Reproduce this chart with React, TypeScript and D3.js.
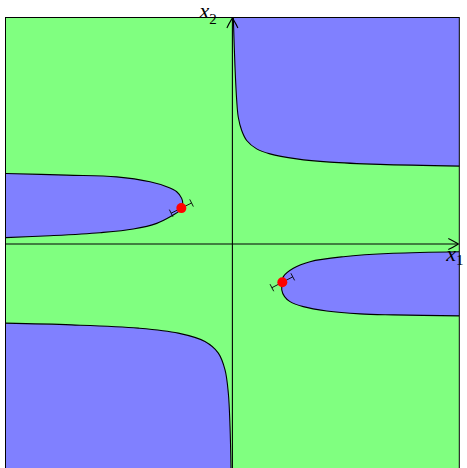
import React from "react";
import * as d3 from "d3";

// Boundary of the blue regions (data units)
const topRightX = [0.008, 0.023, 0.038, 0.052, 0.082, 0.126, 0.214, 0.331, 0.567, 0.86, 1.301, 2.006];
const topRightY = [2.0, 1.56, 1.267, 1.119, 1.002, 0.914, 0.84, 0.796, 0.752, 0.723, 0.703, 0.688];

const bottomLeftX = [-2.004, -1.417, -0.829, -0.477, -0.242, -0.124, -0.065, -0.036, -0.021, -0.012];
const bottomLeftY = [-0.699, -0.714, -0.743, -0.787, -0.861, -0.963, -1.111, -1.316, -1.61, -1.996];

const leftLobeX = [-2.0, -1.461, -1.02, -0.726, -0.579, -0.491, -0.447, -0.438, -0.447, -0.475, -0.521, -0.667, -0.874, -1.167, -1.608, -2.0];
const leftLobeY = [0.623, 0.608, 0.593, 0.549, 0.505, 0.461, 0.403, 0.359, 0.32, 0.286, 0.256, 0.182, 0.132, 0.1, 0.073, 0.056];

const rightLobeX = [2.0, 1.418, 0.978, 0.684, 0.537, 0.449, 0.44, 0.435, 0.46, 0.508, 0.625, 0.831, 1.125, 1.418, 2.0];
const rightLobeY = [-0.068, -0.082, -0.112, -0.156, -0.214, -0.288, -0.338, -0.405, -0.465, -0.509, -0.553, -0.591, -0.617, -0.626, -0.635];

// Points with error bars
const dotX = [-0.45, 0.44];
const dotY = [0.317, -0.338];
const errDx = [0.09, 0.092];
const errDy = [0.045, 0.048];

const axisLabels = ["1", "2"];

const GREEN = "#80ff80";
const BLUE = "#8080ff";

export default function App() {
  const W = 467;
  const H = 468;
  const x = d3.scaleLinear().domain([-2, 2]).range([5.5, 459.3]);
  const y = d3.scaleLinear().domain([-2, 2]).range([470.5, 17.5]);

  const zip = (xs: number[], ys: number[]) => xs.map((v, i) => [v, ys[i]] as [number, number]);
  const line = d3
    .line<[number, number]>()
    .x((d) => x(d[0]))
    .y((d) => y(d[1]))
    .curve(d3.curveCatmullRom.alpha(0.5));

  const tr = zip(topRightX, topRightY);
  const bl = zip(bottomLeftX, bottomLeftY);
  const ll = zip(leftLobeX, leftLobeY);
  const rl = zip(rightLobeX, rightLobeY);

  const trFill = line(tr) + `L${x(2.2)},${y(topRightY[topRightY.length - 1])}L${x(2.2)},${y(2.2)}L${x(topRightX[0])},${y(2.2)}Z`;
  const blFill = line(bl) + `L${x(bottomLeftX[bottomLeftX.length - 1])},${y(-2.2)}L${x(-2.2)},${y(-2.2)}L${x(-2.2)},${y(bottomLeftY[0])}Z`;
  const llFill = line(ll) + `L${x(-2.2)},${y(leftLobeY[leftLobeY.length - 1])}L${x(-2.2)},${y(leftLobeY[0])}Z`;
  const rlFill = line(rl) + `L${x(2.2)},${y(rightLobeY[rightLobeY.length - 1])}L${x(2.2)},${y(rightLobeY[0])}Z`;

  const x0 = x(-2), x1 = x(2), y0 = y(-2), y1 = y(2);
  const ox = x(0), oy = y(0);

  const arrow = "M-10,-5.5 C-6,-3.8 -2,-1.2 0,0 C-2,1.2 -6,3.8 -10,5.5";

  const capLen = 4;

  return (
    <svg
      width={W}
      height={H}
      style={{ position: "absolute", left: 0, top: 0, background: "#fff" }}
    >
      <defs>
        <clipPath id="frame">
          <rect x={x0} y={y1} width={x1 - x0} height={y0 - y1} />
        </clipPath>
      </defs>
      <g clipPath="url(#frame)">
        <rect x={x0} y={y1} width={x1 - x0} height={y0 - y1} fill={GREEN} />
        {[trFill, blFill, llFill, rlFill].map((d, i) => (
          <path key={i} d={d} fill={BLUE} stroke="none" />
        ))}
        {[tr, bl, ll, rl].map((pts, i) => (
          <path key={i} d={line(pts) || ""} fill="none" stroke="#000" strokeWidth={1.1} />
        ))}
      </g>
      {/* axes */}
      <line x1={x0} y1={oy} x2={x1 - 1} y2={oy} stroke="#000" strokeWidth={1.1} />
      <line x1={ox} y1={y0} x2={ox} y2={y1 + 0.5} stroke="#000" strokeWidth={1.1} />
      <path d={arrow} transform={`translate(${x1 - 1},${oy})`} fill="none" stroke="#000" strokeWidth={1.1} />
      <path d={arrow} transform={`translate(${ox},${y1 + 0.5}) rotate(-90)`} fill="none" stroke="#000" strokeWidth={1.1} />
      {/* frame */}
      <rect x={x0} y={y1} width={x1 - x0} height={y0 - y1} fill="none" stroke="#000" strokeWidth={1} />
      {/* error bars and points */}
      {dotX.map((dx0, i) => {
        const cx = x(dx0);
        const cy = y(dotY[i]);
        const ax = x(dx0 - errDx[i]), ay = y(dotY[i] - errDy[i]);
        const bx = x(dx0 + errDx[i]), by = y(dotY[i] + errDy[i]);
        const len = Math.hypot(bx - ax, by - ay);
        const px = (-(by - ay) / len) * capLen;
        const py = ((bx - ax) / len) * capLen;
        return (
          <g key={i}>
            <line x1={ax} y1={ay} x2={bx} y2={by} stroke="#000" strokeWidth={0.9} />
            <line x1={ax - px} y1={ay - py} x2={ax + px} y2={ay + py} stroke="#000" strokeWidth={0.9} />
            <line x1={bx - px} y1={by - py} x2={bx + px} y2={by + py} stroke="#000" strokeWidth={0.9} />
            <circle cx={cx} cy={cy} r={5} fill="#ff0000" />
          </g>
        );
      })}
      {/* labels */}
      <text x={x1 - 13} y={oy + 17} fontFamily="'Liberation Serif', serif" fontSize={22}>
        <tspan fontStyle="italic">x</tspan>
        <tspan dy={4} fontSize={15}>{axisLabels[0]}</tspan>
      </text>
      <text x={ox - 33} y={y1 + 0.5} fontFamily="'Liberation Serif', serif" fontSize={22}>
        <tspan fontStyle="italic">x</tspan>
        <tspan dy={6} fontSize={15}>{axisLabels[1]}</tspan>
      </text>
    </svg>
  );
}
